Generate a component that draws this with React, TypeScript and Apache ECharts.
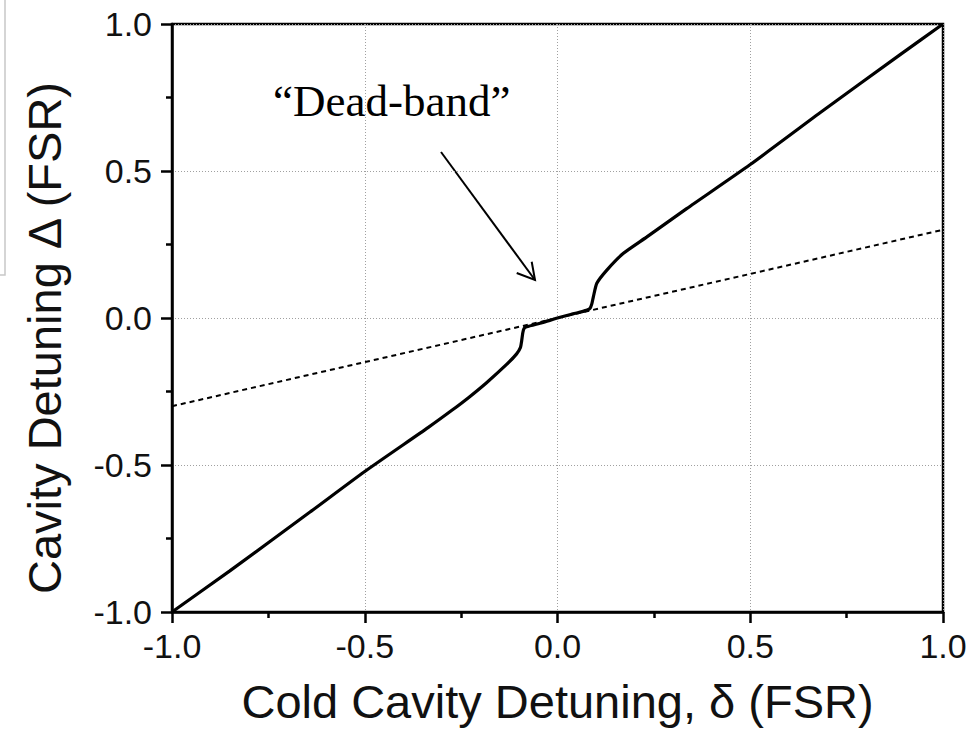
import React, { useEffect, useRef } from "react";
import * as echarts from "echarts";

const xTicks = [-1, -0.5, 0, 0.5, 1];
const solidDelta = [
  -1, -0.85, -0.642, -0.5, -0.335, -0.274, -0.231, -0.184, -0.132, -0.106, -0.096, -0.093, -0.09, -0.087, -0.08, -0.04,
  0, 0.04, 0.075, 0.084, 0.089, 0.093, 0.102, 0.128, 0.171, 0.231, 0.335, 0.5, 0.681, 0.888, 1,
];
const solidDetuning = [
  -1, -0.86, -0.66, -0.522, -0.372, -0.314, -0.271, -0.22, -0.158, -0.122, -0.1, -0.078, -0.05, -0.036, -0.03, -0.016,
  0, 0.014, 0.026, 0.032, 0.048, 0.072, 0.118, 0.163, 0.22, 0.275, 0.372, 0.522, 0.698, 0.895, 1,
];
const dashedDelta = [-1, 1];
const dashedDetuning = [-0.3, 0.3];

const SANS = "'Liberation Sans', Arial, sans-serif";

export default function App() {
  const ref = useRef<HTMLDivElement>(null);
  useEffect(() => {
    if (!ref.current) return;
    const chart = echarts.init(ref.current, null, { renderer: "svg" });
    const axisCommon = {
      type: "value" as const,
      min: xTicks[0],
      max: xTicks[xTicks.length - 1],
      interval: 0.5,
      axisLine: { show: true, onZero: false, lineStyle: { color: "#000", width: 2.5 } },
      axisTick: { show: true, inside: false, length: 11, lineStyle: { color: "#000", width: 2.5 } },
      minorTick: { show: true, splitNumber: 2, length: 6, lineStyle: { color: "#000", width: 2.5 } },
      axisLabel: {
        formatter: (v: number) => v.toFixed(1),
        fontSize: 34,
        color: "#111",
        fontFamily: SANS,
      },
      splitLine: { show: true, lineStyle: { color: "#a0a0a0", width: 1, type: [1, 2] } },
      nameLocation: "middle" as const,
      nameTextStyle: { fontSize: 47, color: "#111", fontFamily: SANS },
    };
    chart.setOption({
      animation: false,
      backgroundColor: "#fff",
      grid: {
        left: 172,
        right: 29,
        top: 24,
        bottom: 123,
        show: true,
        borderColor: "#000",
        borderWidth: 2.5,
        backgroundColor: "transparent",
      },
      xAxis: {
        ...axisCommon,
        name: "Cold Cavity Detuning, δ (FSR)",
        nameGap: 66,
        axisLabel: { ...axisCommon.axisLabel, margin: 17 },
      },
      yAxis: {
        ...axisCommon,
        name: "Cavity Detuning Δ (FSR)",
        nameGap: 104,
        nameTextStyle: { ...axisCommon.nameTextStyle, padding: [0, 40, 0, 0] },
        axisLabel: { ...axisCommon.axisLabel, margin: 20 },
      },
      series: [
        {
          type: "line",
          data: dashedDelta.map((d, i) => [d, dashedDetuning[i]]),
          showSymbol: false,
          lineStyle: { color: "#000", width: 2, type: [5, 4] },
          z: 2,
        },
        {
          type: "line",
          data: solidDelta.map((d, i) => [d, solidDetuning[i]]),
          showSymbol: false,
          smooth: 0.2,
          lineStyle: { color: "#000", width: 3.2 },
          z: 3,
        },
      ],
      graphic: [
        {
          type: "polyline",
          shape: { points: [[5, 0], [5, 275], [0, 275]] },
          style: { stroke: "#c8c8c8", lineWidth: 1.5, fill: "none" },
        },
        {
          type: "text",
          style: {
            text: "“Dead-band”",
            x: 273,
            y: 101,
            verticalAlign: "middle",
            align: "left",
            fontSize: 45,
            fontFamily: "'Liberation Serif', 'DejaVu Serif', serif",
            fill: "#000",
          },
        },
        {
          type: "line",
          shape: { x1: 441, y1: 152, x2: 535, y2: 280 },
          style: { stroke: "#000", lineWidth: 2 },
        },
        {
          type: "polyline",
          shape: { points: [[516.7, 273], [535, 280], [531.7, 261.7]] },
          style: { stroke: "#000", lineWidth: 2, fill: "none" },
        },
      ],
    });
    return () => chart.dispose();
  }, []);
  return (
    <div
      ref={ref}
      style={{ position: "fixed", left: 0, top: 0, width: 972, height: 735, background: "#fff" }}
    />
  );
}
